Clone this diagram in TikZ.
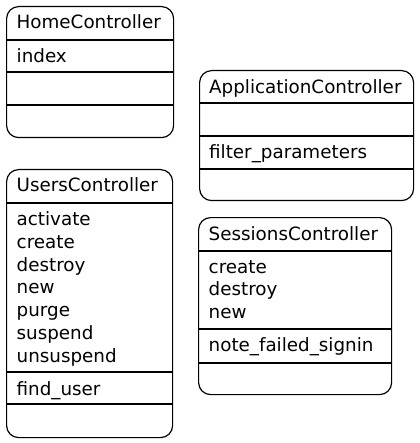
\documentclass[tikz,border=0pt]{standalone}
\usepackage{fontspec}
\setmainfont{DejaVu Sans}
\usepackage{tikz}
\usetikzlibrary{positioning}
\newcommand{\umlfont}{\fontsize{18.3}{22.8}\selectfont}
\tikzset{
  cls/.style={rectangle, draw, rounded corners=12pt, line width=1.2pt,
              inner sep=0pt, anchor=north west},
  item/.style={anchor=base west, inner sep=0pt, font=\umlfont},
  sep/.style={line width=1.2pt}
}
\begin{document}
\begin{tikzpicture}[x=1pt,y=-1pt]
  \useasboundingbox (0,0) rectangle (419,443);
  % HomeController
  \node[cls, minimum width=167pt, minimum height=131pt] (home) at (6,6) {};
  \draw[sep] (6,40) -- (173,40);
  \draw[sep] (6,72) -- (173,72);
  \draw[sep] (6,105) -- (173,105);
  \node[item] (homet) at (16.5,29) {HomeController};
  \node[item] (homem1) at (16.5,63) {index};
  % ApplicationController
  \node[cls, minimum width=214pt, minimum height=130pt] (app) at (199,70) {};
  \draw[sep] (199,103) -- (413,103);
  \draw[sep] (199,136) -- (413,136);
  \draw[sep] (199,169) -- (413,169);
  \node[item] (appt) at (209,93.3) {ApplicationController};
  \node[item] (appp1) at (209,158.5) {filter\_parameters};
  % UsersController
  \node[cls, minimum width=166pt, minimum height=268pt] (users) at (6,169) {};
  \draw[sep] (6,203) -- (172,203);
  \draw[sep] (6,372) -- (172,372);
  \draw[sep] (6,404) -- (172,404);
  \node[item] (userst) at (16.5,192) {UsersController};
  \foreach \m [count=\i from 0] in {activate,create,destroy,new,purge,suspend,unsuspend}
    \node[item] (usersm\i) at (16.5,225.5+22.8*\i) {\m};
  \node[item] (usersp1) at (16.5,395) {find\_user};
  % SessionsController
  \node[cls, minimum width=193pt, minimum height=177pt] (sessions) at (198,217) {};
  \draw[sep] (198,251) -- (391,251);
  \draw[sep] (198,329) -- (391,329);
  \draw[sep] (198,363) -- (391,363);
  \node[item] (sessionst) at (208.5,240) {SessionsController};
  \foreach \m [count=\i from 0] in {create,destroy,new}
    \node[item] (sessionsm\i) at (208.5,273+22.8*\i) {\m};
  \node[item] (sessionsp1) at (208.5,351) {note\_failed\_signin};
\end{tikzpicture}
\end{document}
